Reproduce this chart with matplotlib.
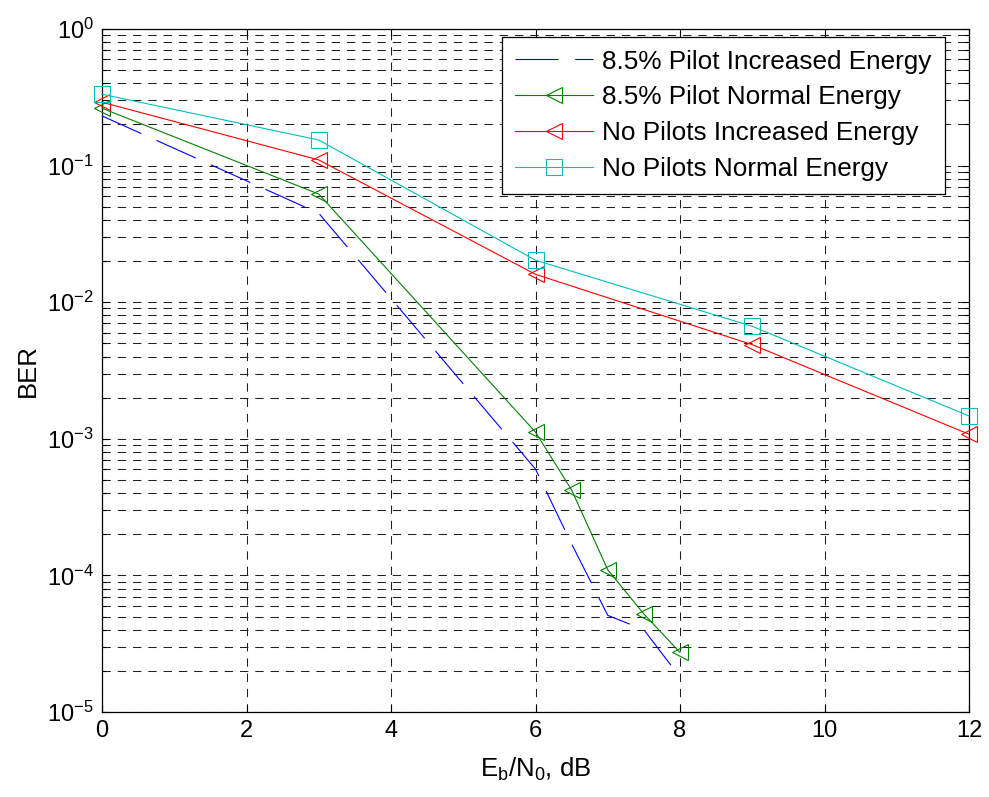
import matplotlib
matplotlib.use("Agg")
import matplotlib.pyplot as plt
from matplotlib.ticker import LogLocator, NullFormatter, FixedLocator

# Eb/N0 points (dB)
ebn0_pilot = [0, 3, 6, 6.5, 7, 7.5, 8]
ebn0_nopilot = [0, 3, 6, 9, 12]

# BER values
ber_pilot_increased = [0.231, 0.0448, 6.0e-4, 1.7e-4, 5.1e-5, 4.0e-5, 1.8e-5]
ber_pilot_normal = [0.263, 0.0619, 1.12e-3, 4.22e-4, 1.10e-4, 5.22e-5, 2.73e-5]
ber_nopilot_increased = [0.291, 0.110, 0.016, 4.89e-3, 1.08e-3]
ber_nopilot_normal = [0.333, 0.154, 0.0203, 6.66e-3, 1.47e-3]

labels = ["8.5% Pilot Increased Energy",
          "8.5% Pilot Normal Energy",
          "No Pilots Increased Energy",
          "No Pilots Normal Energy"]

x_ticks = [0, 2, 4, 6, 8, 10, 12]

# Setup plot tools
plt.rcParams["font.family"] = ["Liberation Sans", "DejaVu Sans"]
plt.rcParams["axes.unicode_minus"] = False
plt.rcParams["lines.scale_dashes"] = False

fig = plt.figure(figsize=(9.89, 7.97), dpi=100)
ax = fig.add_axes([102 / 989, 85 / 797, 867 / 989, 683 / 797])

lw = 0.8
ax.plot(ebn0_pilot, ber_pilot_increased, color="#0000ff", linewidth=lw,
        linestyle=(0, (31, 12)), label=labels[0], clip_on=False, zorder=3)
ax.plot(ebn0_pilot, ber_pilot_normal, color="#008000", linewidth=lw,
        marker="<", markersize=12, markerfacecolor="none", markeredgewidth=lw,
        label=labels[1], clip_on=False, zorder=3)
ax.plot(ebn0_nopilot, ber_nopilot_increased, color="#ff0000", linewidth=lw,
        marker="<", markersize=12, markerfacecolor="none", markeredgewidth=lw,
        label=labels[2], clip_on=False, zorder=3)
ax.plot(ebn0_nopilot, ber_nopilot_normal, color="#00bfbf", linewidth=lw,
        marker="s", markersize=11.5, markerfacecolor="none", markeredgewidth=lw,
        label=labels[3], clip_on=False, zorder=3)

# Axes scales
ax.set_yscale("log")
ax.set_ylim(1e-5, 1)
ax.set_xlim(0, 12)
ax.xaxis.set_major_locator(FixedLocator(x_ticks))
ax.yaxis.set_major_locator(LogLocator(base=10, numticks=10))
ax.yaxis.set_minor_locator(LogLocator(base=10, subs=range(2, 10), numticks=20))
ax.yaxis.set_minor_formatter(NullFormatter())

# Grid: dashed, major on both axes, minor on y only
grid_style = dict(color="#202020", linewidth=0.75, linestyle=(0, (6, 5)))
ax.grid(which="major", axis="both", **grid_style)
ax.grid(which="minor", axis="y", **grid_style)
ax.set_axisbelow(True)

# Ticks inside, on every side
ax.tick_params(which="both", direction="in", top=True, right=True,
               labelsize=17, color="black", width=0.8)
ax.tick_params(which="major", length=5, pad=6)
ax.tick_params(which="minor", length=3)
for s in ax.spines.values():
    s.set_linewidth(0.9)
    s.set_color("black")

ax.set_xlabel(r"$\mathregular{E_b/N_0}$, dB", fontsize=18.5, labelpad=10)
ax.set_ylabel("BER", fontsize=18.5, labelpad=5)

# Legend box in the top right
leg = ax.legend(loc="upper right", bbox_to_anchor=(0.972, 0.989),
                borderaxespad=0, fontsize=18.8, handlelength=3.0,
                handletextpad=0.35, labelspacing=0.45, borderpad=0.5,
                fancybox=False, framealpha=1, edgecolor="black")
leg.get_frame().set_linewidth(0.9)

plt.savefig("out.png", dpi=100, facecolor="white")
